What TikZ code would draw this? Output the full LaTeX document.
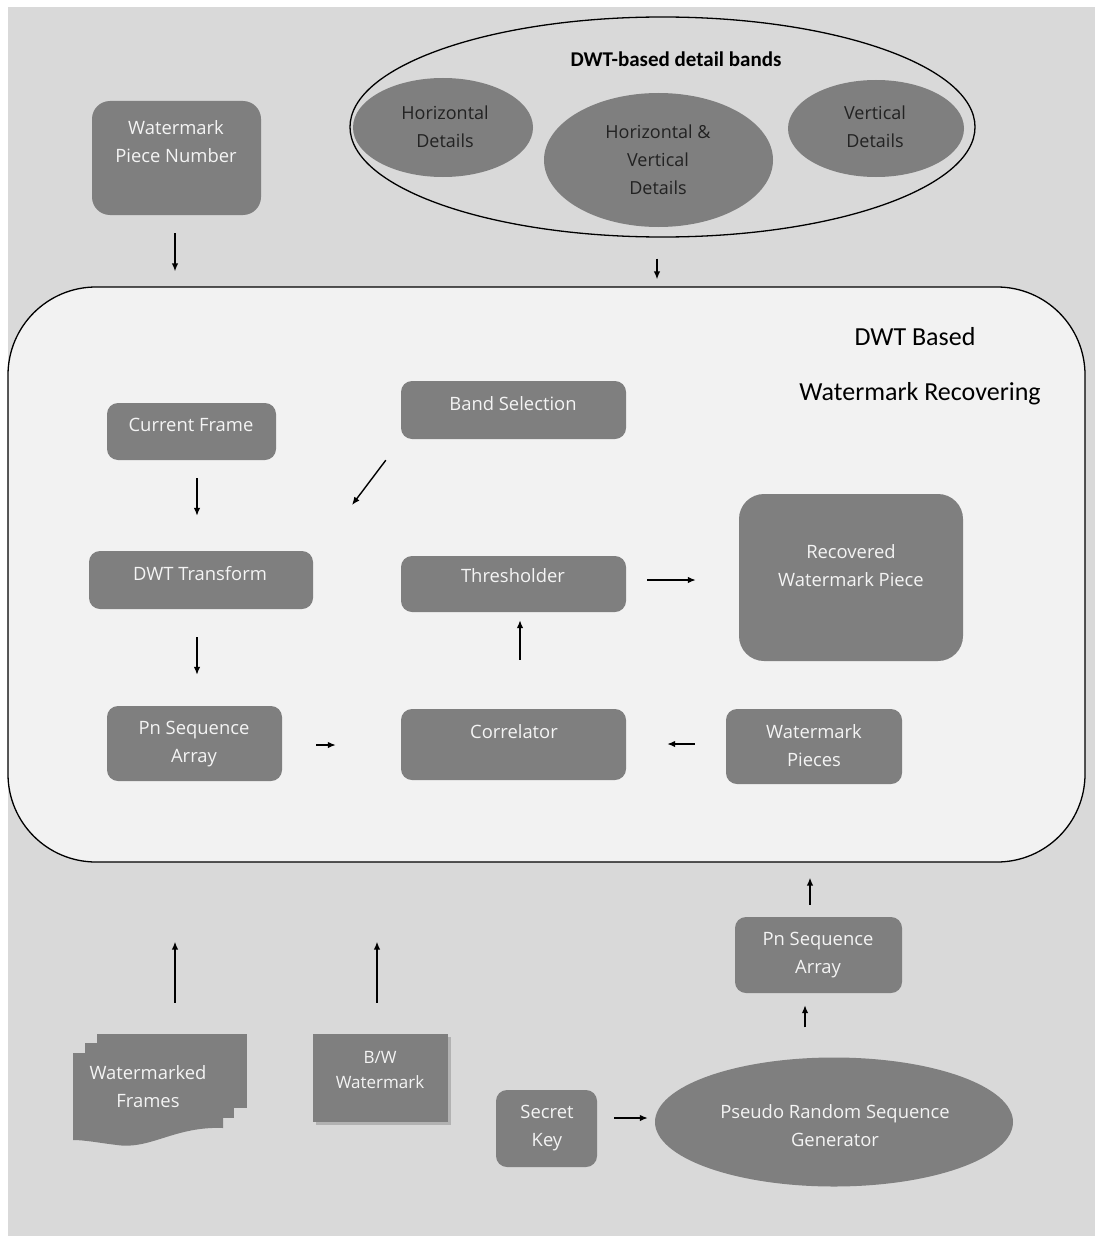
\documentclass[tikz,border=0pt]{standalone}
\usepackage{fontspec}
\setmainfont{Open Sans}
\newfontfamily\calib{Carlito}
\usetikzlibrary{shapes.geometric,arrows.meta,calc}
\definecolor{boxgray}{HTML}{7F7F7F}
\definecolor{bggray}{HTML}{D9D9D9}
\definecolor{panel}{HTML}{F2F2F2}
\definecolor{wtxt}{HTML}{F4F4F4}
\definecolor{dtxt}{HTML}{222222}
\tikzset{
  box/.style={rectangle, rounded corners=11pt, fill=boxgray, draw=none, inner sep=0pt},
  oval/.style={ellipse, fill=boxgray, draw=none, inner sep=0pt},
  wt/.style={text=wtxt, align=center, font=\fontsize{18.4}{28}\selectfont, inner sep=0pt},
  dt/.style={text=dtxt, align=center, font=\fontsize{18}{28}\selectfont, inner sep=0pt},
  arr/.style={draw=black, line width=1.4pt, -{Latex[length=8pt,width=6.5pt]}}
}
\begin{document}
\begin{tikzpicture}[x=1pt,y=-1pt]
\useasboundingbox (0,0) rectangle (1095,1236);
\fill[white] (0,0) rectangle (1095,1236);
\fill[bggray] (8,7) rectangle (1095,1236);

% main panel
\node[rectangle, rounded corners=88pt, fill=panel, draw=black, line width=1.3pt,
      minimum width=1077pt, minimum height=575pt, inner sep=0pt] (main) at (546.5,574.5) {};
\node[font=\calib\fontsize{26}{28}\selectfont, inner sep=0pt] (t1) at (915,337) {DWT Based};
\node[font=\calib\fontsize{26}{28}\selectfont, inner sep=0pt] (t2) at (920,394) {Watermark Recovering};

% top: watermark piece number
\node[box, rounded corners=18pt, minimum width=169pt, minimum height=114pt] (wpn) at (176.5,158) {};
\node[wt] (wpnt) at (176,142) {Watermark\\Piece Number};

% DWT detail bands
\node[ellipse, draw=black, line width=1.3pt, minimum width=625pt, minimum height=220pt, inner sep=0pt] (bands) at (662.5,127) {};
\node[font=\calib\bfseries\fontsize{21}{22}\selectfont, inner sep=0pt] (bandst) at (676,59) {DWT-based detail bands};
\node[oval, minimum width=180pt, minimum height=99pt] (hd) at (443,127.5) {};
\node[dt] (hdt) at (445,127) {Horizontal\\Details};
\node[oval, minimum width=229pt, minimum height=134pt] (hvd) at (658.5,160) {};
\node[dt] (hvdt) at (658,160) {Horizontal \&\\Vertical\\Details};
\node[oval, minimum width=176pt, minimum height=97pt] (vd) at (876,128.5) {};
\node[dt] (vdt) at (875,127) {Vertical\\Details};

% inner boxes
\node[box, minimum width=169pt, minimum height=57pt] (cf) at (191.5,431.5) {};
\node[wt] (cft) at (191,425) {Current Frame};
\node[box, minimum width=225pt, minimum height=58pt] (band) at (513.5,410) {};
\node[wt] (bandt) at (513,404) {Band Selection};
\node[box, minimum width=224pt, minimum height=58pt] (dwt) at (201,580) {};
\node[wt] (dwtt) at (200,574) {DWT Transform};
\node[box, minimum width=225pt, minimum height=56pt] (thr) at (513.5,584) {};
\node[wt] (thrt) at (513,576) {Thresholder};
\node[box, rounded corners=25pt, minimum width=224pt, minimum height=167pt] (rwp) at (851,577.5) {};
\node[wt] (rwpt) at (851,566) {Recovered\\Watermark Piece};
\node[box, minimum width=175pt, minimum height=75pt] (pn1) at (194.5,743.5) {};
\node[wt] (pn1t) at (194,744) {Pn Sequence\\Array};
\node[box, minimum width=225pt, minimum height=71pt] (cor) at (513.5,744.5) {};
\node[wt] (cort) at (514,732) {Correlator};
\node[box, minimum width=176pt, minimum height=75pt] (wp) at (814,746.5) {};
\node[wt] (wpt) at (814,745.5) {Watermark\\Pieces};

% bottom
\node[box, minimum width=167pt, minimum height=76pt] (pn2) at (818.5,955) {};
\node[wt] (pn2t) at (818,955) {Pn Sequence\\Array};
\node[oval, minimum width=358pt, minimum height=129pt] (prsg) at (834,1122) {};
\node[wt] (prsgt) at (835,1126) {Pseudo Random Sequence\\Generator};
\node[box, minimum width=101pt, minimum height=77pt] (sk) at (546.5,1128.5) {};
\node[wt] (skt) at (547,1128) {Secret\\Key};

% B/W watermark with shadow
\fill[black!30] (316,1037) rectangle (451,1125);
\node[rectangle, fill=boxgray, inner sep=0pt, minimum width=135pt, minimum height=88pt] (bw) at (380.5,1078) {};
\node[wt, font=\fontsize{17}{25}\selectfont] (bwt) at (380,1070.5) {B/W\\Watermark};

% watermarked frames (stack of documents)
\node[rectangle, inner sep=0pt, minimum width=174pt, minimum height=111pt] (wf) at (160,1089.5) {};
\fill[boxgray] (97,1034) rectangle (247,1108);
\fill[boxgray] (85,1043) rectangle (234,1118);
\fill[boxgray] (73,1053) -- (223,1053) -- (223,1128)
   .. controls (175,1126) and (150,1150) .. (117,1145)
   .. controls (100,1143) and (85,1140) .. (73,1140) -- cycle;
\node[wt] (wft) at (148,1087) {Watermarked\\Frames};

% connectors
\draw[arr, shorten <=18pt, shorten >=15pt] ([xshift=-1.5pt]wpn.south) -- ([xshift=-1.5pt]wpn.south |- main.north);
\draw[arr, shorten <=21pt, shorten >=7pt] ([xshift=-5.5pt]bands.south) -- ([xshift=-5.5pt]bands.south |- main.north);
\coordinate (bsend) at (352,505);
\draw[arr] ([shift={(-15pt,-21pt)}]band.south west) -- (bsend);
\draw[arr, shorten <=18pt, shorten >=35pt] ([xshift=5.5pt]cf.south) -- ([xshift=5.5pt]cf.south |- dwt.north);
\draw[arr, shorten <=28pt, shorten >=31pt] ([xshift=-4pt]dwt.south) -- ([xshift=-4pt]dwt.south |- pn1.north);
\draw[arr, shorten <=34pt, shorten >=65pt] ([yshift=-1.5pt]pn1.east) -- ([yshift=-1.5pt]pn1.east -| cor.west);
\draw[arr, shorten <=31pt, shorten >=41pt] ([yshift=2.5pt]wp.west) -- ([yshift=2.5pt]wp.west -| cor.east);
\draw[arr, shorten <=49pt, shorten >=8pt] ([xshift=6.5pt]cor.north) -- ([xshift=6.5pt]cor.north |- thr.south);
\draw[arr, shorten <=21pt, shorten >=43pt] ([yshift=4pt]thr.east) -- ([yshift=4pt]thr.east -| rwp.west);
\draw[arr, shorten <=12pt, shorten >=15pt] ([xshift=-8.5pt]pn2.north) -- ([xshift=-8.5pt]pn2.north |- main.south);
\draw[arr, shorten <=30pt, shorten >=12pt] ([xshift=-29pt]prsg.north) -- ([xshift=-29pt]prsg.north |- pn2.south);
\draw[arr, shorten <=17pt, shorten >=7pt] ([yshift=10.5pt]sk.east) -- ([yshift=10.5pt]sk.east -| prsg.west);
\draw[arr, shorten <=31pt, shorten >=79pt] ([xshift=15pt]wf.north) -- ([xshift=15pt]wf.north |- main.south);
\draw[arr, shorten <=31pt, shorten >=79pt] ([xshift=-3.5pt]bw.north) -- ([xshift=-3.5pt]bw.north |- main.south);
\end{tikzpicture}
\end{document}
